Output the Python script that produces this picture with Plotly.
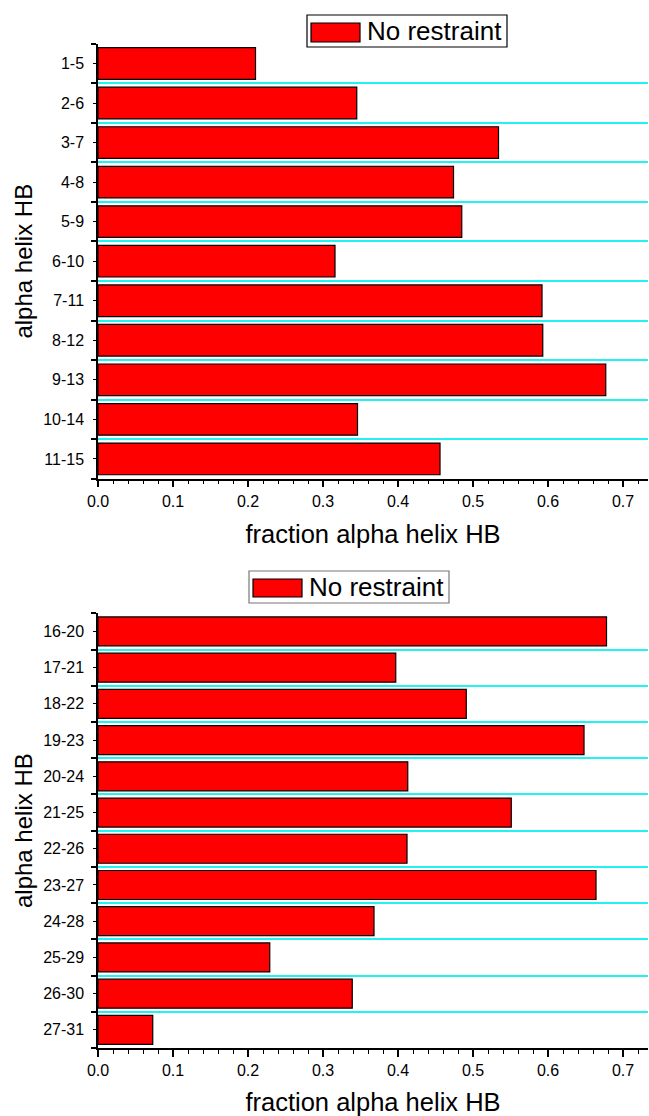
import plotly.graph_objects as go

# ---------------- data ----------------
top_labels = ["1-5", "2-6", "3-7", "4-8", "5-9", "6-10", "7-11", "8-12", "9-13", "10-14", "11-15"]
top_values = [0.210, 0.345, 0.534, 0.474, 0.485, 0.316, 0.592, 0.593, 0.677, 0.346, 0.456]

bottom_labels = ["16-20", "17-21", "18-22", "19-23", "20-24", "21-25", "22-26", "23-27",
                 "24-28", "25-29", "26-30", "27-31"]
bottom_values = [0.678, 0.397, 0.491, 0.648, 0.413, 0.551, 0.412, 0.664, 0.368, 0.229, 0.339, 0.073]

series_name = "No restraint"
x_title = "fraction alpha helix HB"
y_title = "alpha helix HB"
x_max = 0.7333

# ---------------- layout helpers ----------------
W, H = 649, 1116
FONT = "Arial, 'Liberation Sans', sans-serif"


def fx(x):
    return x / W


def fy(y):
    return 1 - y / H


BAR_COLOR = "#FF0000"
GRID_COLOR = "#22F2F2"

fig = go.Figure()

fig.add_trace(go.Bar(
    y=list(range(len(top_labels))), x=top_values, orientation="h",
    xaxis="x", yaxis="y", width=0.8, name=series_name, showlegend=False,
    marker=dict(color=BAR_COLOR, line=dict(color="black", width=1.2)),
    hovertext=top_labels,
))
fig.add_trace(go.Bar(
    y=list(range(len(bottom_labels))), x=bottom_values, orientation="h",
    xaxis="x2", yaxis="y2", width=0.8, name=series_name, showlegend=False,
    marker=dict(color=BAR_COLOR, line=dict(color="black", width=1.2)),
    hovertext=bottom_labels,
))


def xaxis_cfg(anchor):
    return dict(
        anchor=anchor, domain=[fx(98), fx(648)], range=[0, x_max], automargin=False,
        tickmode="linear", tick0=0, dtick=0.1, tickformat=".1f",
        ticks="outside", ticklen=7, tickwidth=1.5, tickcolor="black",
        minor=dict(tick0=0, dtick=0.02, ticks="outside", ticklen=4, tickwidth=1.2,
                   tickcolor="black", showgrid=False),
        showline=True, linecolor="black", linewidth=1.5,
        showgrid=False, zeroline=False,
        tickfont=dict(family=FONT, size=16, color="black"),
        title=dict(text=x_title, font=dict(family=FONT, size=25.5, color="black"), standoff=16),
    )


def yaxis_cfg(anchor, labels, dom):
    n = len(labels)
    return dict(
        anchor=anchor, domain=dom, range=[n - 0.5, -0.5], automargin=False,
        tickmode="array", tickvals=list(range(n)), ticktext=labels,
        ticks="outside", ticklen=3, tickwidth=1.2, tickcolor="black",
        minor=dict(tick0=0.5, dtick=1, ticks="outside", ticklen=5, tickwidth=1.5,
                   tickcolor="black", showgrid=True, gridcolor=GRID_COLOR, gridwidth=1.5),
        showline=True, linecolor="black", linewidth=1.5,
        showgrid=False, zeroline=False, ticklabelstandoff=6,
        tickfont=dict(family=FONT, size=16, color="black"),
        title=dict(text=y_title, font=dict(family=FONT, size=24, color="black"), standoff=4),
    )


fig.update_layout(
    template="none",
    width=W, height=H, autosize=False,
    margin=dict(l=0, r=0, t=0, b=0),
    paper_bgcolor="white", plot_bgcolor="white",
    bargap=0.2, showlegend=False,
    xaxis=xaxis_cfg("y"),
    yaxis=yaxis_cfg("x", top_labels, [fy(478.7), fy(43.7)]),
    xaxis2=xaxis_cfg("y2"),
    yaxis2=yaxis_cfg("x2", bottom_labels, [fy(1048), fy(613.3)]),
)

# legend-like boxes (one per panel)
shapes = []
annotations = []
for (bx0, by0, bx1, by1, sx0, sy0, sx1, sy1, tx, ty, border) in [
    (307, 15, 507, 47, 311, 23, 360, 42, 365, 31, "black"),
    (249, 571, 449, 603, 253, 579, 302, 597, 307, 587, "#777777"),
]:
    shapes.append(dict(type="rect", xref="paper", yref="paper",
                       x0=fx(bx0), x1=fx(bx1), y0=fy(by1), y1=fy(by0),
                       line=dict(color=border, width=1.2), fillcolor="white", layer="above"))
    shapes.append(dict(type="rect", xref="paper", yref="paper",
                       x0=fx(sx0), x1=fx(sx1), y0=fy(sy1), y1=fy(sy0),
                       line=dict(color="black", width=1.2), fillcolor=BAR_COLOR, layer="above"))
    annotations.append(dict(xref="paper", yref="paper", x=fx(tx), y=fy(ty),
                            xanchor="left", yanchor="middle", showarrow=False,
                            text=series_name,
                            font=dict(family=FONT, size=26, color="black")))

fig.update_layout(shapes=shapes, annotations=annotations)

fig.write_html("out.html")
